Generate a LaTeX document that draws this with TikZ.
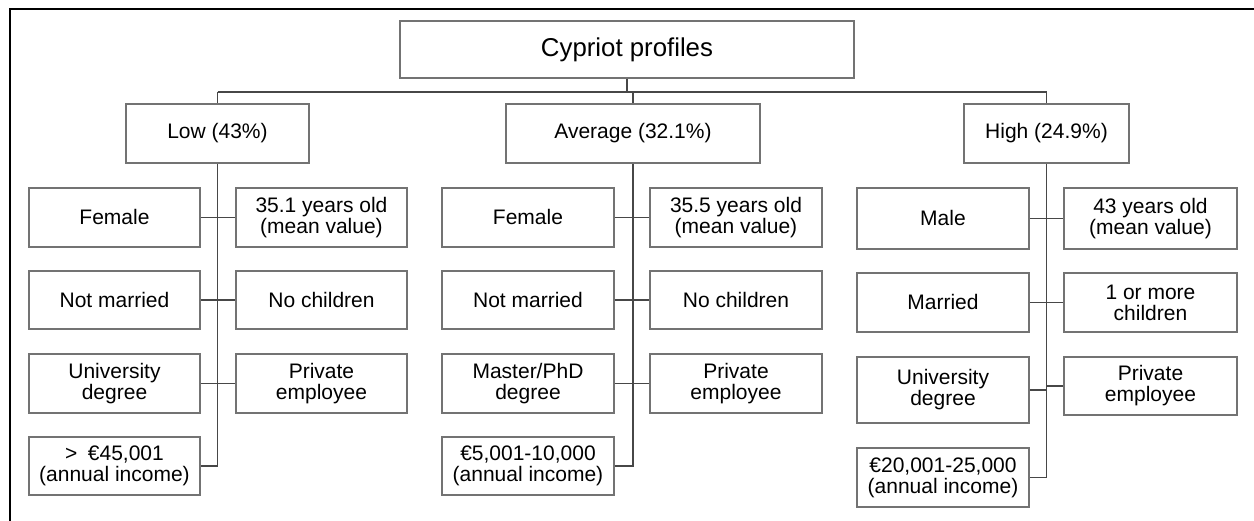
\documentclass[tikz,border=0pt]{standalone}
\usepackage{fontspec}
\setmainfont{Liberation Sans}
\begin{document}
\begin{tikzpicture}[x=1pt,y=1pt,
  box/.style={draw=black!55, line width=1.4pt, fill=white, inner sep=0pt, align=center,
    text=black, font=\fontsize{21}{21}\selectfont},
  conn/.style={draw=black!72, line width=1.8pt},
  frame/.style={draw=black, line width=2.6pt}]
\useasboundingbox (0,0) rectangle (1254,521);
\draw[frame] (10,0) -- (10,512) -- (1254,512);
% title
\node[box, minimum width=454, minimum height=57, font=\fontsize{25.8}{26}\selectfont] (title) at (627,471.5) {Cypriot profiles};
% groups
\node[box, minimum width=183, minimum height=59] (low) at (217.5,387.5) {Low (43\%)};
\node[box, minimum width=254, minimum height=59] (avg) at (633,387.5) {Average (32.1\%)};
\node[box, minimum width=165, minimum height=59] (high) at (1046.5,387.5) {High (24.9\%)};
% low
\node[box, minimum width=171, minimum height=59] (lowL1) at (114.5,303.5) {Female};
\node[box, minimum width=171, minimum height=59] (lowR1) at (321.5,303.5) {35.1 years old\\(mean value)};
\node[box, minimum width=171, minimum height=58] (lowL2) at (114.5,221) {Not married};
\node[box, minimum width=171, minimum height=58] (lowR2) at (321.5,221) {No children};
\node[box, minimum width=171, minimum height=59] (lowL3) at (114.5,137.5) {University\\degree};
\node[box, minimum width=171, minimum height=59] (lowR3) at (321.5,137.5) {Private\\employee};
\node[box, minimum width=171, minimum height=58] (lowL4) at (114.5,55) {>\enspace€45,001\\(annual income)};
% average
\node[box, minimum width=172, minimum height=59] (avgL1) at (528,303.5) {Female};
\node[box, minimum width=172, minimum height=59] (avgR1) at (736,303.5) {35.5 years old\\(mean value)};
\node[box, minimum width=172, minimum height=58] (avgL2) at (528,221) {Not married};
\node[box, minimum width=172, minimum height=58] (avgR2) at (736,221) {No children};
\node[box, minimum width=172, minimum height=59] (avgL3) at (528,137.5) {Master/PhD\\degree};
\node[box, minimum width=172, minimum height=59] (avgR3) at (736,137.5) {Private\\employee};
\node[box, minimum width=172, minimum height=58] (avgL4) at (528,55) {€5,001-10,000\\(annual income)};
% high
\node[box, minimum width=172, minimum height=61] (highL1) at (943,302.5) {Male};
\node[box, minimum width=173, minimum height=61] (highR1) at (1150.5,302.5) {43 years old\\(mean value)};
\node[box, minimum width=172, minimum height=59] (highL2) at (943,218.5) {Married};
\node[box, minimum width=173, minimum height=59] (highR2) at (1150.5,218.5) {1 or more\\children};
\node[box, minimum width=172, minimum height=66] (highL3) at (943,131) {University\\degree};
\node[box, minimum width=173, minimum height=58] (highR3) at (1150.5,135) {Private\\employee};
\node[box, minimum width=172, minimum height=59] (highL4) at (943,43.5) {€20,001-25,000\\(annual income)};
% top connectors
\coordinate (hbar) at (627,429);
\draw[conn] (title.south) -- (title.south |- hbar);
\draw[conn] (low.north |- hbar) -- (high.north |- hbar);
\draw[conn] (low.north |- hbar) -- (low.north);
\draw[conn] (avg.north |- hbar) -- (avg.north);
\draw[conn] (high.north |- hbar) -- (high.north);
% trunks
\foreach \g in {low,avg,high}{
  \draw[conn] (\g.south) -- (\g.south |- \g L4.east) -- (\g L4.east);
  \draw[conn] (\g L1.east) -- (\g L1.east -| \g.south) -- (\g R1.west);
  \draw[conn] (\g L2.east) -- (\g L2.east -| \g.south) -- (\g R2.west);
  \draw[conn] (\g L3.east) -- (\g L3.east -| \g.south);
  \draw[conn] (\g R3.west -| \g.south) -- (\g R3.west);
}
\end{tikzpicture}
\end{document}
